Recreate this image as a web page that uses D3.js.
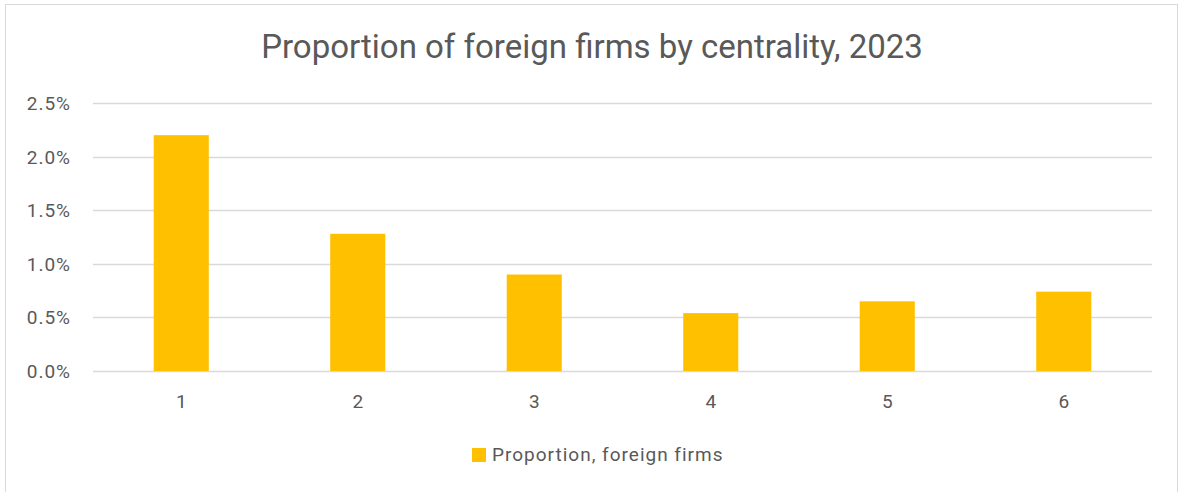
<!DOCTYPE html>
<html>
<head>
<meta charset="utf-8">
<script src="https://cdn.jsdelivr.net/npm/d3@7"></script>
<style>
  body { margin: 0; background: #fff; }
  text { font-family: Roboto, "Open Sans", sans-serif; fill: #595959; }
</style>
</head>
<body>
<svg id="chart"></svg>
<script>
// data
const categories = ['1', '2', '3', '4', '5', '6'];
const proportions = [0.0220, 0.0128, 0.0090, 0.0054, 0.0065, 0.0074];
const yTicks = [0, 0.005, 0.01, 0.015, 0.02, 0.025];
const seriesName = 'Proportion, foreign firms';
const title = 'Proportion of foreign firms by centrality, 2023';

const width = 1179;
const height = 492;
const margin = {top: 103, right: 27, bottom: 121, left: 93};

const svg = d3.select('#chart')
    .attr('width', width)
    .attr('height', height);

// chart frame
svg.append('rect')
    .attr('x', 5.5).attr('y', 4.5)
    .attr('width', width - 7).attr('height', height)
    .attr('fill', '#fff')
    .attr('stroke', '#d9d9d9');

const x = d3.scaleBand()
    .domain(categories)
    .range([margin.left, width - margin.right])
    .paddingInner(0.688)
    .paddingOuter(0.344);

const y = d3.scaleLinear()
    .domain([0, 0.025])
    .range([height - margin.bottom, margin.top]);

// gridlines
svg.append('g')
    .selectAll('line')
    .data(yTicks)
    .join('line')
    .attr('x1', margin.left)
    .attr('x2', width - margin.right)
    .attr('y1', d => Math.round(y(d)) + 0.5)
    .attr('y2', d => Math.round(y(d)) + 0.5)
    .attr('stroke', '#d9d9d9')
    .attr('stroke-width', 1.3);

// y labels
svg.append('g')
    .selectAll('text')
    .data(yTicks)
    .join('text')
    .attr('x', 71)
    .attr('y', d => y(d) + 7)
    .attr('text-anchor', 'end')
    .style('font-size', '19px')
    .style('letter-spacing', '1px')
    .text(d3.format('.1%'));

// bars
svg.append('g')
    .selectAll('rect')
    .data(proportions)
    .join('rect')
    .attr('x', (d, i) => x(categories[i]))
    .attr('y', d => y(d))
    .attr('width', x.bandwidth())
    .attr('height', d => y(0) - y(d))
    .attr('fill', '#ffc000');

// x labels
svg.append('g')
    .selectAll('text')
    .data(categories)
    .join('text')
    .attr('x', d => x(d) + x.bandwidth() / 2)
    .attr('y', 408)
    .attr('text-anchor', 'middle')
    .style('font-size', '19px')
    .text(d => d);

// title
svg.append('text')
    .attr('x', 592)
    .attr('y', 58)
    .attr('text-anchor', 'middle')
    .style('font-size', '33px')
    .text(title);

// legend
const legend = svg.append('g');
legend.append('rect')
    .attr('x', 472).attr('y', 448)
    .attr('width', 14).attr('height', 14)
    .attr('fill', '#ffc000');
legend.append('text')
    .attr('x', 492)
    .attr('y', 461)
    .style('font-size', '19px')
    .style('letter-spacing', '1px')
    .text(seriesName);
</script>
</body>
</html>
